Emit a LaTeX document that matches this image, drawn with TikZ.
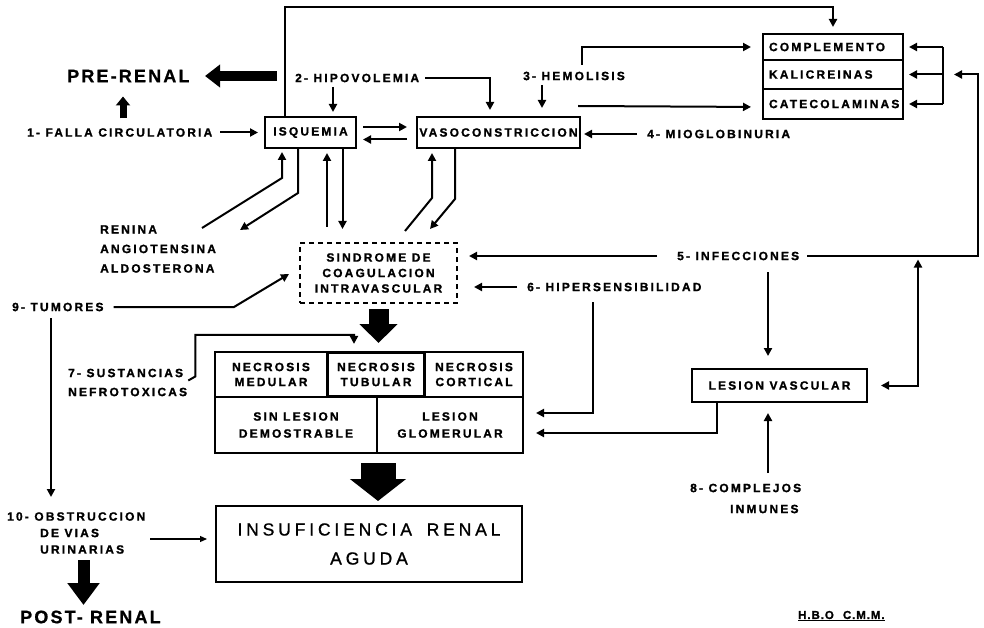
\documentclass[tikz,border=0pt]{standalone}
\usepackage{fontspec}
\setmainfont{Liberation Sans}
\newfontfamily\labfont[LetterSpace=18,FakeBold=1.2]{Liberation Sans}
\newfontfamily\bigfont[LetterSpace=12,FakeBold=0.8]{Liberation Sans}
\newfontfamily\irafont[LetterSpace=22,FakeBold=1]{Liberation Sans}
\newfontfamily\sigfont[LetterSpace=8,FakeBold=1.2]{Liberation Sans}
\newcommand\labsize[1]{\labfont\bfseries\fontsize{12}{#1}\selectfont}
\usetikzlibrary{arrows.meta,calc}
\begin{document}
\begin{tikzpicture}[x=1pt,y=-1pt,
 lab/.style={font=\labsize{13}, inner sep=0pt, anchor=west},
 biglab/.style={lab, font=\bigfont\bfseries\fontsize{18}{20}\selectfont},
 box/.style={draw, line width=2pt, inner sep=0pt, font=\labsize{15}, align=center},
 ln/.style={line width=2pt},
 arr/.style={line width=2pt, -{Triangle[length=8pt,width=8pt]}},
 arrb/.style={line width=2pt, {Triangle[length=8pt,width=8pt]}-{Triangle[length=8pt,width=8pt]}},
 thinarr/.style={line width=1.2pt, -{Triangle[length=7pt,width=6pt]}},
 fatA/.style={line width=10pt, -{Triangle[length=15pt,width=22pt]}},
 fatB/.style={line width=7pt, -{Triangle[length=9pt,width=14pt]}},
 fatC/.style={line width=20pt, -{Triangle[length=19pt,width=37pt]}},
 fatD/.style={line width=35pt, -{Triangle[length=22pt,width=55pt]}},
 fatE/.style={line width=12pt, -{Triangle[length=22pt,width=31pt]}}]
\useasboundingbox (0,0) rectangle (984,628);

% labels
\node[biglab] (pre) at (67,76) {PRE-RENAL};
\node[lab] (falla) at (27,132.5) {1- FALLA CIRCULATORIA};
\node[lab] (hipo) at (295,78) {2- HIPOVOLEMIA};
\node[lab] (hemo) at (523,76) {3- HEMOLISIS};
\node[lab] (mio) at (647,134) {4- MIOGLOBINURIA};
\node[lab, align=left, font=\labsize{19.5}] (ren) at (100,249) {RENINA\\ANGIOTENSINA\\ALDOSTERONA};
\node[lab] (infec) at (677,256) {5- INFECCIONES};
\node[lab] (hiper) at (527,287) {6- HIPERSENSIBILIDAD};
\node[lab, align=left, font=\labsize{19}] (sust) at (68,382.5) {7- SUSTANCIAS\\NEFROTOXICAS};
\node[lab, align=left, font=\labsize{21}] (compl) at (690,498.5) {8- COMPLEJOS\\\hspace*{40pt}INMUNES};
\node[lab] (tum) at (12,307) {9- TUMORES};
\node[lab, align=left, font=\labsize{16.5}] (obst) at (7,533) {10- OBSTRUCCION\\\hspace*{33pt}DE VIAS\\\hspace*{33pt}URINARIAS};
\node[biglab] (post) at (20,617) {POST- RENAL};
\node[lab, font=\sigfont\bfseries\fontsize{11.5}{13}\selectfont] (hbo) at (798,616) {\underline{H.B.O\hspace{5pt} C.M.M.}};

% boxes
\node[box, minimum width=91pt, minimum height=31pt] (isq) at (310.5,132.5) {ISQUEMIA};
\node[box, minimum width=163pt, minimum height=31pt] (vaso) at (498.5,132.5) {VASOCONSTRICCION};
\node[box, minimum width=140pt, minimum height=26pt, text width=128pt, align=left] (comp) at (833,47) {COMPLEMENTO};
\node[box, minimum width=140pt, minimum height=29pt, text width=128pt, align=left] (kal) at (833,74.5) {KALICREINAS};
\node[box, minimum width=140pt, minimum height=30pt, text width=128pt, align=left] (cat) at (833,104) {CATECOLAMINAS};
\node[box, dash pattern=on 5pt off 4pt, minimum width=157pt, minimum height=60pt, font=\labsize{15.5}] (sci) at (378.5,273) {SINDROME DE\\COAGULACION\\INTRAVASCULAR};
\node[box, minimum width=112pt, minimum height=45pt] (med) at (271,374.5) {NECROSIS\\MEDULAR};
\node[box, minimum width=98pt, minimum height=45pt] (cor) at (474,374.5) {NECROSIS\\CORTICAL};
\node[box, minimum width=162pt, minimum height=56pt, font=\labsize{17}] (sin) at (296,425) {SIN LESION\\DEMOSTRABLE};
\node[box, minimum width=146pt, minimum height=56pt, font=\labsize{17}] (glom) at (450,425) {LESION\\GLOMERULAR};
\node[box, line width=3.2pt, minimum width=97pt, minimum height=44pt] (tub) at (376,374.5) {NECROSIS\\TUBULAR};
\node[box, minimum width=175pt, minimum height=33pt] (lv) at (779.5,385.5) {LESION VASCULAR};
\node[box, minimum width=306pt, minimum height=76pt, font=\irafont\fontsize{17.5}{29}\selectfont] (ira) at (369,544) {INSUFICIENCIA\hspace{6pt} RENAL\\AGUDA};

% top loop
\draw[arr, shorten >=6pt] ([xshift=-25.5pt]isq.north) -- ++(0,-109) -| (comp.north);
% pre-renal
\draw[fatA] ($(pre.west)+(210,0)$) -- ($(pre.west)+(138,0)$);
\draw[fatB] ($(falla.west)+(96,-14)$) -- ($(falla.west)+(96,-36)$);
\draw[arr, shorten <=8pt, shorten >=6pt] (falla.east) -- (isq.west);
% hipovolemia
\draw[arr, shorten >=4pt] ($(hipo.west)+(38,9)$) -- ([xshift=22.5pt]isq.north);
\draw[arr, shorten >=6pt] ($(hipo.east)+(6,0)$) -| ([xshift=-8.5pt]vaso.north);
% hemolisis
\draw[arr, shorten >=8pt] ($(hemo.west)+(19,9)$) -- ([xshift=43.5pt]vaso.north);
\draw[arr, shorten >=11pt] ($(hemo.west)+(59,-11)$) |- (comp.west);
\draw[arr, shorten >=11pt] ([xshift=-3pt,yshift=10pt]vaso.north east) -- ([yshift=-3pt]cat.west);
% mioglobinuria
\draw[arr, shorten >=3pt] ($(mio.west)+(-10,0)$) -- (mio.west -| vaso.east);
% isquemia <-> vasoconstriccion
\draw[arr, shorten <=6pt, shorten >=9pt] ([yshift=5.5pt]isq.east) -- ([yshift=5.5pt]vaso.west);
\draw[arr, shorten <=9pt, shorten >=6pt] ([yshift=-7pt]vaso.west) -- ([yshift=-7pt]isq.east);
% bracket
\draw[ln] ([xshift=39pt]comp.east) -- ([xshift=39pt]cat.east);
\foreach \n in {comp,kal,cat} \draw[arr] ([xshift=39pt]\n.east) -- ([xshift=5pt]\n.east);
% infecciones
\draw[arr] ($(infec.east)+(8,0)$) -| ([xshift=74pt]kal.east) -- ([xshift=50pt]kal.east);
\draw[arr] ($(infec.west)+(-20,0)$) -- ($(sci.east)+(11,-17)$);
\draw[arr] ($(infec.west)+(91,16)$) -- ([xshift=-11.5pt,yshift=12pt]lv.north);
\draw[arrb] ([xshift=13pt]lv.east) -| ($(lv.east)+(50,-126)$);
\draw[arr] ([xshift=-62.5pt]lv.south) |- ([xshift=12pt,yshift=-8pt]glom.east);
\draw[arr] ($(compl.west)+(78,-25.5)$) -- ([xshift=-11.5pt,yshift=-10pt]lv.south);
% hipersensibilidad
\draw[arr] ($(hiper.west)+(-10,0)$) -- ($(sci.east)+(16,14)$);
\draw[arr] ($(hiper.west)+(66,15)$) |- ([xshift=12pt,yshift=12pt]glom.east);
% isquemia / vaso <-> SCI and renina
\draw[arr, shorten >=3pt] ($(isq.south)+(-108.5,79)$) -- ($(isq.south)+(-28.5,29)$) -- ($(isq.south)+(-28.5,0)$);
\draw[arr] ($(isq.south)+(-12.5,0)$) -- ($(isq.south)+(-12.5,44)$) -- ($(isq.south)+(-70.5,81)$);
\draw[arr, shorten >=4pt] ($(sci.north)+(-51.5,-15)$) -- ($(isq.south)+(16.5,0)$);
\draw[arr] ($(isq.south)+(32,0)$) -- ($(sci.north)+(-36,-13)$);
\draw[arr, shorten >=4pt] ($(sci.north)+(26.5,-11)$) -- ($(vaso.south)+(-66.5,49)$) -- ($(vaso.south)+(-66.5,0)$);
\draw[arr] ($(vaso.south)+(-43.5,0)$) -- ($(vaso.south)+(-43.5,50)$) -- ($(sci.north)+(51.5,-13)$);
% tumores
\draw[arr] ($(tum.east)+(10,0)$) -- ($(sci.west)+(-65,34)$) -- ($(sci.west)+(-10,1)$);
\draw[arr] ($(tum.west)+(39,11)$) -- ($(obst.west)+(44,-36)$);
% sustancias
\draw[arr] ($(sust.east)+(1,-2)$) -- ++(7,-4) |- ($(tub.north)+(-22,-16)$) -- ($(tub.north)+(-22,-7)$);
% big arrows
\draw[fatC] ($(sci.south)+(0,5)$) -- ($(sci.south)+(0,39)$);
\draw[fatD] ($(sin.south east)+(0,9)$) -- ($(sin.south east)+(0,47)$);
\draw[fatE] ($(obst.west)+(76.5,27)$) -- ($(obst.west)+(76.5,72)$);
% obstruccion -> IRA
\draw[thinarr] ($(obst.west)+(143,6)$) -- ($(ira.west)+(-8,-5)$);
\end{tikzpicture}
\end{document}
